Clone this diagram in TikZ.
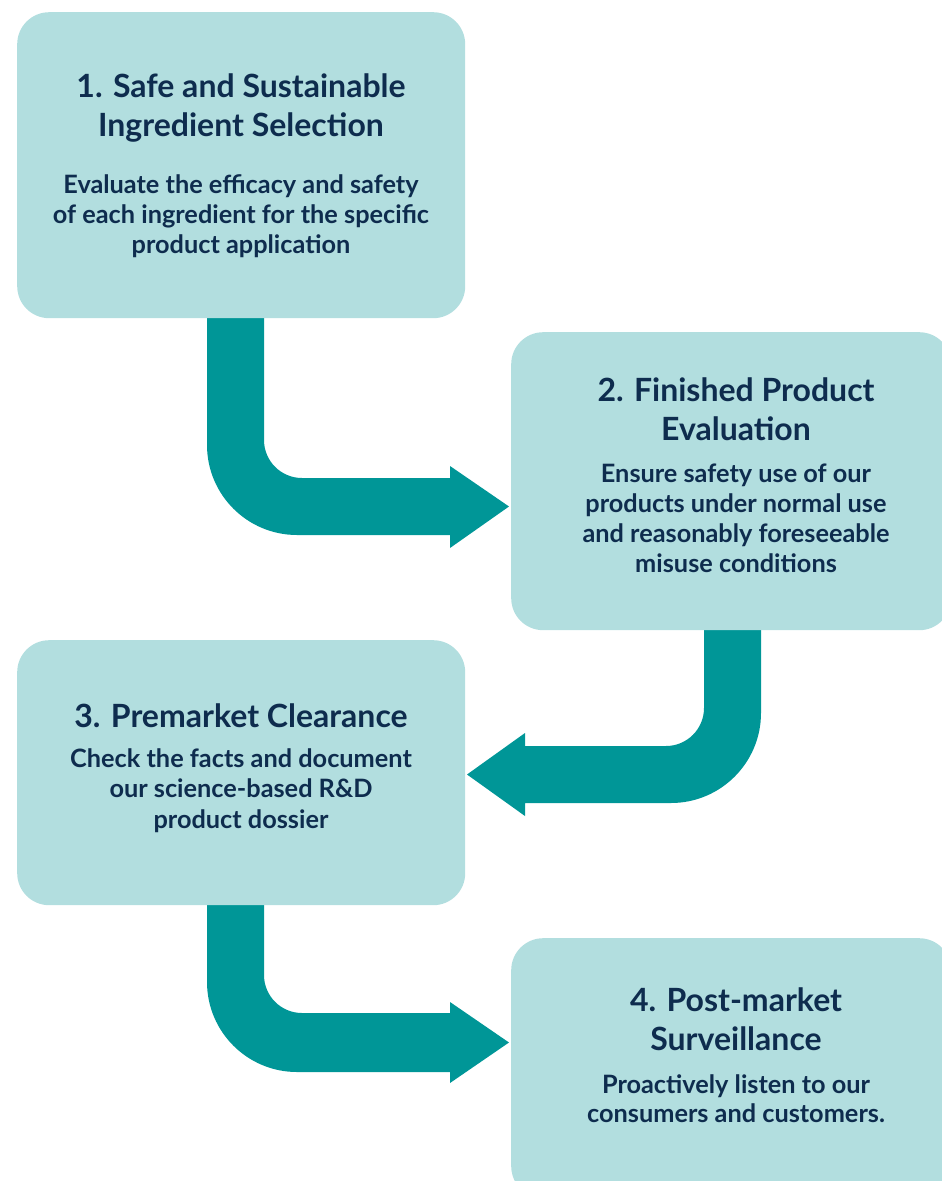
\documentclass[tikz,border=0pt]{standalone}
\usepackage{fontspec}
\setmainfont{Lato}
\definecolor{boxfill}{HTML}{B2DEDF}
\definecolor{arrowc}{HTML}{009697}
\definecolor{txt}{HTML}{0E2C4E}
\tikzset{
  stepbox/.style={fill=boxfill, rounded corners=32pt, inner sep=0pt, anchor=north west},
  flowarrow/.style={fill=arrowc},
  titletxt/.style={text=txt, align=center, anchor=base, inner sep=0pt, font=\bfseries\fontsize{32pt}{38.5pt}\selectfont},
  bodytxt/.style={text=txt, align=center, anchor=base, inner sep=0pt, font=\bfseries\fontsize{25.3pt}{30pt}\selectfont}
}
\begin{document}
\begin{tikzpicture}[x=1pt,y=-1pt]
\useasboundingbox (0,0) rectangle (942,1181);
\clip (0,0) rectangle (942,1181);
% arrows
\fill[flowarrow] (207,314) -- (207,445) .. controls (207,494.7) and (247.3,535) .. (297,535) -- (450,535) -- (450,548) -- (509,506.5) -- (450,466) -- (450,478) -- (302,478) .. controls (281,478) and (264,461) .. (264,440) -- (264,314) -- cycle;
\fill[flowarrow] (761,626) -- (761,713) .. controls (761,762.7) and (720.7,803) .. (671,803) -- (525,803) -- (525,816) -- (467,774.5) -- (525,733) -- (525,746) -- (666,746) .. controls (687,746) and (704,729) .. (704,708) -- (704,626) -- cycle;
\fill[flowarrow] (207,901) -- (207,982) .. controls (207,1031.7) and (247.3,1072) .. (297,1072) -- (450,1072) -- (450,1083) -- (509,1042.5) -- (450,1002) -- (450,1013) -- (302,1013) .. controls (281,1013) and (264,996) .. (264,975) -- (264,901) -- cycle;
% boxes
\node[stepbox, minimum width=448pt, minimum height=306pt] (b1) at (17,12) {};
\node[stepbox, minimum width=440pt, minimum height=298pt] (b2) at (511,332) {};
\node[stepbox, minimum width=448pt, minimum height=265pt] (b3) at (17,640) {};
\node[stepbox, minimum width=440pt, minimum height=260pt] (b4) at (511,938) {};
% texts (anchor base = last line's baseline)
\node[titletxt] (t1) at (241,136) {1. Safe and Sustainable\\Ingredient Selection};
\node[bodytxt] (d1) at (241,253) {Evaluate the efficacy and safety\\of each ingredient for the specific\\product application};
\node[titletxt] (t2) at (736,440) {2. Finished Product\\Evaluation};
\node[bodytxt] (d2) at (736,572) {Ensure safety use of our\\products under normal use\\and reasonably foreseeable\\misuse conditions};
\node[titletxt] (t3) at (241,727) {3. Premarket Clearance};
\node[bodytxt, font=\bfseries\fontsize{25.3pt}{30.5pt}\selectfont] (d3) at (241,828) {Check the facts and document\\our science-based R\&D\\product dossier};
\node[titletxt] (t4) at (736,1050) {4. Post-market\\Surveillance};
\node[bodytxt, font=\bfseries\fontsize{25.3pt}{29pt}\selectfont] (d4) at (736,1122) {Proactively listen to our\\consumers and customers.};
\end{tikzpicture}
\end{document}
